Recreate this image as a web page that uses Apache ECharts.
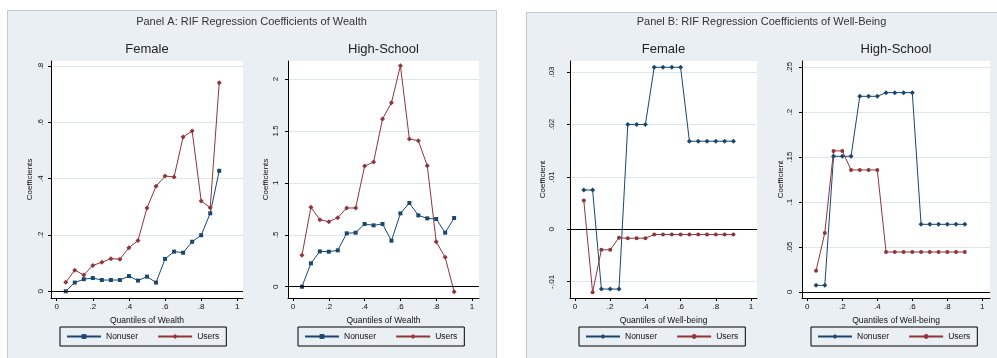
<!DOCTYPE html>
<html>
<head>
<meta charset="utf-8">
<script src="https://cdn.jsdelivr.net/npm/echarts@6/dist/echarts.min.js"></script>
<style>html,body{margin:0;padding:0;background:#fff;}#c{width:997px;height:358px;}</style>
</head>
<body>
<div id="c"></div>
<script>
// ---- data ----
const quantiles = [0.05,0.10,0.15,0.20,0.25,0.30,0.35,0.40,0.45,0.50,0.55,0.60,0.65,0.70,0.75,0.80,0.85,0.90];
const xTicks = [0,0.2,0.4,0.6,0.8,1];

const wealthFemaleNonuser = [0.000,0.031,0.043,0.047,0.040,0.040,0.040,0.054,0.038,0.052,0.031,0.115,0.141,0.137,0.176,0.199,0.277,0.428];
const wealthFemaleUsers   = [0.032,0.075,0.058,0.092,0.103,0.116,0.114,0.155,0.180,0.296,0.373,0.409,0.406,0.548,0.569,0.321,0.297,0.741];
const wealthHSNonuser     = [0.000,0.225,0.340,0.337,0.350,0.514,0.520,0.604,0.591,0.604,0.443,0.706,0.806,0.687,0.658,0.652,0.520,0.661];
const wealthHSUsers       = [0.302,0.764,0.645,0.626,0.665,0.758,0.758,1.162,1.200,1.615,1.772,2.128,1.422,1.406,1.165,0.433,0.283,-0.048];

const wellFemaleNonuser = [0.0075,0.0075,-0.0114,-0.0114,-0.0114,0.0200,0.0200,0.0200,0.0309,0.0309,0.0309,0.0309,0.0168,0.0168,0.0168,0.0168,0.0168,0.0168];
const wellFemaleUsers   = [0.0055,-0.0120,-0.0039,-0.0039,-0.0016,-0.0017,-0.0017,-0.0017,-0.0010,-0.0010,-0.0010,-0.0010,-0.0010,-0.0010,-0.0010,-0.0010,-0.0010,-0.0010];
const wellHSNonuser     = [0.0074,0.0074,0.151,0.151,0.151,0.2177,0.2177,0.2177,0.2218,0.2218,0.2218,0.2218,0.0753,0.0753,0.0753,0.0753,0.0753,0.0753];
const wellHSUsers       = [0.0237,0.0657,0.157,0.157,0.1358,0.1358,0.1358,0.1358,0.0445,0.0445,0.0445,0.0445,0.0445,0.0445,0.0445,0.0445,0.0445,0.0445];

const yTicksWealthFemale = [0,0.2,0.4,0.6,0.8];
const yTicksWealthHS     = [0,0.5,1,1.5,2];
const yTicksWellFemale   = [-0.01,0,0.01,0.02,0.03];
const yTicksWellHS       = [0,0.05,0.1,0.15,0.2,0.25];

const panelTitles = ['Panel A: RIF Regression Coefficients of Wealth','Panel B: RIF Regression Coefficients of Well-Being'];
const subTitles = ['Female','High-School','Female','High-School'];
const seriesNames = ['Nonuser','Users'];
const xTitles = ['Quantiles of Wealth','Quantiles of Wealth','Quantiles of Well-being','Quantiles of Well-being'];
const yTitles = ['Coefficients','Coefficients','Coefficient','Coefficient'];

// ---- layout / style ----
const FONT = "Arial, 'Liberation Sans', sans-serif";
const BLUE = '#1a476f', RED = '#90353b';
const grids = [
  {left:51, top:61, width:192, height:237},
  {left:288, top:61, width:191, height:237},
  {left:570, top:61, width:187, height:237},
  {left:802, top:61, width:188, height:237}
];
const xRanges = [[-0.0316,1.0316],[-0.028,1.039],[-0.0284,1.034],[-0.0303,1.044]];
const yRanges = [[-0.0238,0.8178],[-0.1088,2.1733],[-0.0131,0.0321],[-0.00668,0.257]];
const yTickSets = [yTicksWealthFemale,yTicksWealthHS,yTicksWellFemale,yTicksWellHS];
const yLabelMargins = [6,8,14,8];
const yNameGaps = [17,18,17,17];
const dataSets = [
  [wealthFemaleNonuser,wealthFemaleUsers],
  [wealthHSNonuser,wealthHSUsers],
  [wellFemaleNonuser,wellFemaleUsers],
  [wellHSNonuser,wellHSUsers]
];
const symbols = [['rect','diamond'],['rect','diamond'],['diamond','circle'],['diamond','circle']];
const legendLefts = [60,298,579,811];
const legendTops = [327,327,327,327];

function fmt(v){
  let s = String(parseFloat(Number(v).toFixed(4)));
  s = s.replace(/^0\./,'.').replace(/^-0\./,'-.');
  return s;
}

const xAxis = [], yAxis = [], series = [], legend = [], title = [];
grids.forEach((g,i)=>{
  xAxis.push({
    type:'value', gridIndex:i, min:xRanges[i][0], max:xRanges[i][1],
    name:xTitles[i], nameLocation:'middle', nameGap:12,
    nameTextStyle:{fontFamily:FONT,fontSize:8.5,color:'#111'},
    axisLine:{show:true,onZero:false,lineStyle:{color:'#000',width:1}},
    axisTick:{show:true,length:3,customValues:xTicks,lineStyle:{color:'#000'}},
    axisLabel:{customValues:xTicks,formatter:fmt,margin:5,fontFamily:FONT,fontSize:8,color:'#111',showMinLabel:true,showMaxLabel:true},
    splitLine:{show:false}
  });
  yAxis.push({
    type:'value', gridIndex:i, min:yRanges[i][0], max:yRanges[i][1],
    name:yTitles[i], nameLocation:'middle', nameGap:yNameGaps[i], nameRotate:90,
    nameTextStyle:{fontFamily:FONT,fontSize:8,color:'#111'},
    axisLine:{show:true,onZero:false,lineStyle:{color:'#000',width:1}},
    axisTick:{show:true,length:3,customValues:yTickSets[i],lineStyle:{color:'#000'}},
    axisLabel:{customValues:yTickSets[i],formatter:fmt,rotate:90,margin:yLabelMargins[i],fontFamily:FONT,fontSize:8,color:'#111'},
    splitLine:{show:true,lineStyle:{color:'#dce6eb',width:1}}
  });
  [0,1].forEach(k=>{
    const s = {
      type:'line', name:seriesNames[k]+'|'+i, xAxisIndex:i, yAxisIndex:i,
      data:quantiles.map((q,j)=>[q,dataSets[i][k][j]]),
      symbol:symbols[i][k], symbolSize:symbols[i][k]==='diamond'?5:4,
      showSymbol:true, clip:false, animation:false, silent:true,
      lineStyle:{color:k===0?BLUE:RED,width:1},
      itemStyle:{color:k===0?BLUE:RED},
      z:3
    };
    if(k===0){
      s.markLine = {silent:true,symbol:'none',animation:false,label:{show:false},
        lineStyle:{color:'#000',width:1,type:'solid'},data:[{yAxis:0}]};
    }
    series.push(s);
  });
  legend.push({
    left:legendLefts[i], top:legendTops[i], orient:'horizontal',
    data:[seriesNames[0]+'|'+i, seriesNames[1]+'|'+i],
    formatter:n=>n.split('|')[0],
    itemWidth:34, itemHeight:6, itemGap:19,
    padding:[5,7,5,6], borderColor:'#000', borderWidth:1,
    selectedMode:false,
    textStyle:{fontFamily:FONT,fontSize:8.5,color:'#111'}
  });
  title.push({
    text:subTitles[i], left:g.left+g.width/2, top:49,
    textAlign:'center', textVerticalAlign:'middle', padding:0,
    textStyle:{fontFamily:FONT,fontSize:13,fontWeight:'normal',color:'#222'}
  });
});
title.push({text:panelTitles[0],left:251.5,top:22,textAlign:'center',textVerticalAlign:'middle',padding:0,
  textStyle:{fontFamily:FONT,fontSize:11,fontWeight:'normal',color:'#333'}});
title.push({text:panelTitles[1],left:761.5,top:22,textAlign:'center',textVerticalAlign:'middle',padding:0,
  textStyle:{fontFamily:FONT,fontSize:11,fontWeight:'normal',color:'#333'}});

const chart = echarts.init(document.getElementById('c'),null,{renderer:'canvas'});
chart.setOption({
  animation:false,
  backgroundColor:'#ffffff',
  graphic:[
    {type:'rect',z:-100,shape:{x:7.5,y:10.5,width:489,height:360},style:{fill:'#e9eff2',stroke:'#c4c8cb',lineWidth:1},silent:true},
    {type:'rect',z:-100,shape:{x:526.5,y:12.5,width:480,height:360},style:{fill:'#e9eff2',stroke:'#c4c8cb',lineWidth:1},silent:true}
  ],
  title:title,
  legend:legend,
  grid:grids.map(g=>Object.assign({show:true,backgroundColor:'#ffffff',borderWidth:0,containLabel:false},g)),
  xAxis:xAxis,
  yAxis:yAxis,
  series:series
});
</script>
</body>
</html>
